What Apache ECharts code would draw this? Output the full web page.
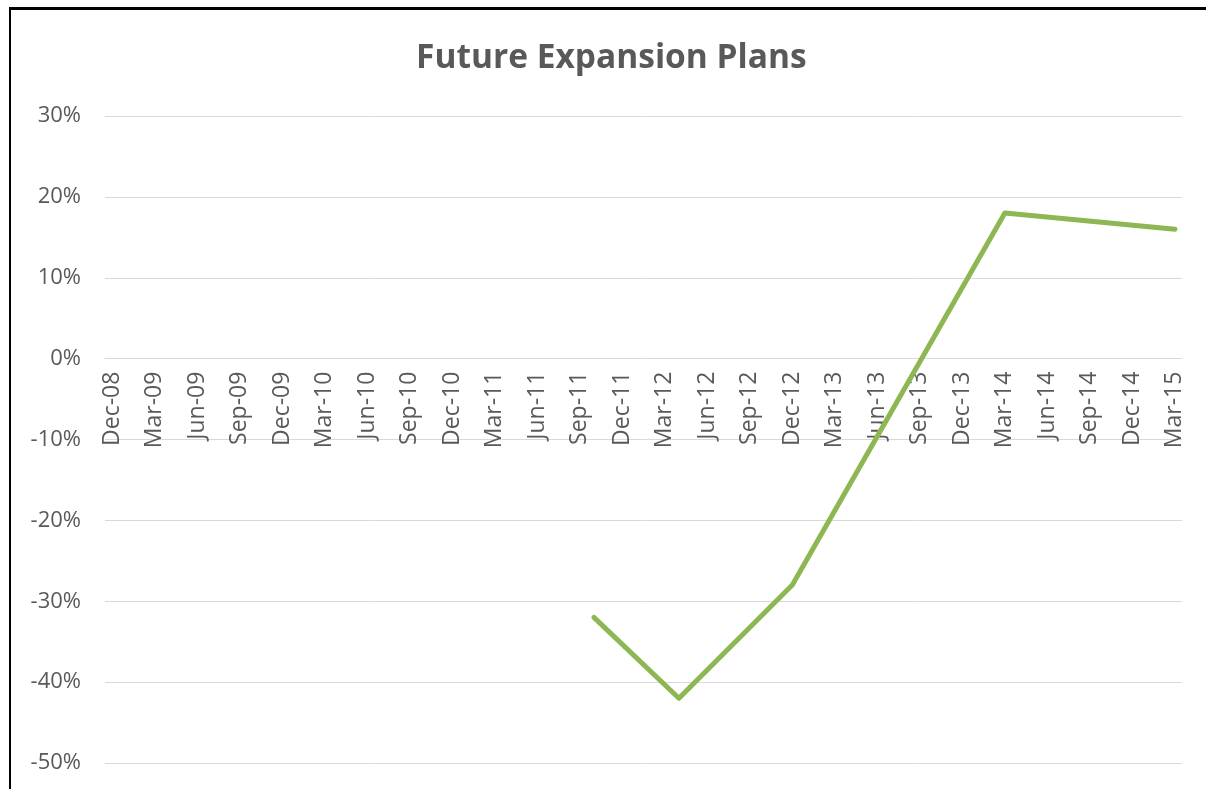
<!DOCTYPE html>
<html>
<head>
    <meta charset="utf8">
    <title>Future Expansion Plans</title>
    <script src="https://cdn.jsdelivr.net/npm/echarts@6/dist/echarts.min.js"></script>
    <style>
        body { margin: 0; background: #fff; }
        #frame { position: absolute; left: 9px; top: 7px; width: 1300px; height: 900px;
                 border-left: 2px solid #000; border-top: 3px solid #000; pointer-events: none; }
    </style>
</head>
<body>
    <div id="main" style="width: 1206px;height:789px;"></div>
    <div id="frame"></div>
    <script type="text/javascript">
    // monthly categories, Dec-08 .. Mar-15 (labels shown every quarter)
    var monthNames = ['Jan','Feb','Mar','Apr','May','Jun','Jul','Aug','Sep','Oct','Nov','Dec'];
    var months = [];
    for (var i = 0; i < 76; i++) {
        var m = (11 + i) % 12;
        var y = 8 + Math.floor((11 + i) / 12);
        months.push(monthNames[m] + '-' + (y < 10 ? '0' + y : '' + y));
    }

    // survey points
    var pointDates = ['Oct-11', 'Apr-12', 'Dec-12', 'Mar-14', 'Mar-15'];
    var pointValues = [-32, -42, -28, 18, 16];

    var yTicks = [-50, -40, -30, -20, -10, 0, 10, 20, 30];

    var seriesData = [];
    for (var k = 0; k < pointDates.length; k++) {
        seriesData.push([pointDates[k], pointValues[k]]);
    }

    var gridTop = 116, gridBottom = 26, chartH = 789;
    var yMin = yTicks[0], yMax = yTicks[yTicks.length - 1];
    // move the category axis up to the 0% line (onZero does not kick in here)
    var plotH = chartH - gridTop - gridBottom;
    var zeroOffset = -plotH * (0 - yMin) / (yMax - yMin);

    var textColor = '#595959';
    var myChart = echarts.init(document.getElementById('main'));
    var option = {
        animation: false,
        title: {
            text: 'Future Expansion Plans',
            left: 416,
            top: 41,
            padding: 0,
            textStyle: {
                color: textColor,
                fontFamily: 'Open Sans',
                fontWeight: 'bold',
                fontSize: 33.5
            }
        },
        grid: { left: 105, right: 24, top: gridTop, bottom: gridBottom, outerBoundsMode: 'none', containLabel: false },
        xAxis: {
            type: 'category',
            data: months,
            boundaryGap: true,
            position: 'bottom',
            offset: zeroOffset,
            axisLine: { onZero: false, lineStyle: { color: '#d9d9d9', width: 1 } },
            axisTick: { interval: 2, length: 6, lineStyle: { color: '#d9d9d9' } },
            axisLabel: {
                interval: 2,
                rotate: 90,
                margin: 13,
                color: textColor,
                fontFamily: 'Open Sans',
                fontSize: 23
            },
            splitLine: { show: false }
        },
        yAxis: {
            type: 'value',
            min: yMin,
            max: yMax,
            interval: 10,
            axisLine: { show: false },
            axisTick: { show: false },
            axisLabel: {
                formatter: '{value}%',
                margin: 24,
                color: textColor,
                fontFamily: 'Open Sans',
                fontSize: 22
            },
            splitLine: { lineStyle: { color: '#d9d9d9', width: 1 } }
        },
        series: [{
            type: 'line',
            data: seriesData,
            symbol: 'none',
            z: 3,
            lineStyle: { color: '#8cb752', width: 5, cap: 'round', join: 'round' }
        }]
    };
    myChart.setOption(option);
    </script>
</body>
</html>
